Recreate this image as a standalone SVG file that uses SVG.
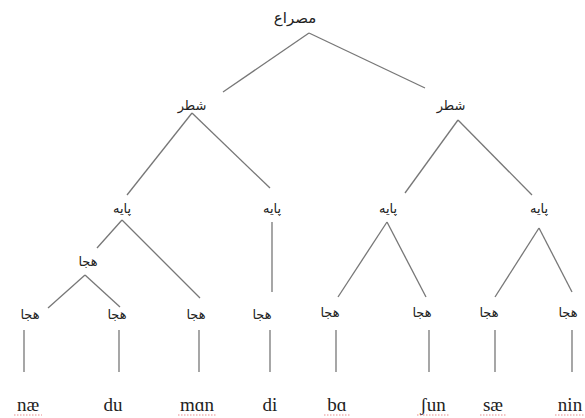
<svg xmlns="http://www.w3.org/2000/svg" width="585" height="418" viewBox="0 0 585 418">
<style>
.ar{font-family:"DejaVu Sans",sans-serif;font-size:13px;fill:#222;text-anchor:middle}
.top{font-size:15px}
.w{font-family:"Liberation Serif",serif;font-size:19px;fill:#222;text-anchor:middle}
.e{stroke:#777;stroke-width:1.3;fill:none}
.sq{stroke:#e07070;stroke-width:0.8;fill:none;stroke-dasharray:1.5 1.5}
</style>
<rect width="585" height="418" fill="#fff"/>
<g id="connectors">
<line class="e" x1="309" y1="33" x2="223" y2="92"/>
<line class="e" x1="309" y1="33" x2="425" y2="88"/>
<line class="e" x1="192" y1="113" x2="127" y2="195"/>
<line class="e" x1="192" y1="113" x2="270" y2="188"/>
<line class="e" x1="458" y1="120" x2="405" y2="193"/>
<line class="e" x1="458" y1="120" x2="532" y2="195"/>
<line class="e" x1="122" y1="220" x2="97" y2="248"/>
<line class="e" x1="122" y1="220" x2="200" y2="298"/>
<line class="e" x1="272" y1="222" x2="272" y2="292"/>
<line class="e" x1="85" y1="275" x2="48" y2="308"/>
<line class="e" x1="85" y1="275" x2="120" y2="307"/>
<line class="e" x1="387" y1="222" x2="338" y2="297"/>
<line class="e" x1="387" y1="222" x2="426" y2="297"/>
<line class="e" x1="539" y1="228" x2="495" y2="297"/>
<line class="e" x1="539" y1="228" x2="572" y2="292"/>
<line class="e" x1="24" y1="330" x2="24" y2="372"/>
<line class="e" x1="119" y1="330" x2="119" y2="372"/>
<line class="e" x1="199" y1="330" x2="199" y2="372"/>
<line class="e" x1="270" y1="330" x2="270" y2="372"/>
<line class="e" x1="336" y1="330" x2="336" y2="372"/>
<line class="e" x1="429" y1="330" x2="429" y2="372"/>
<line class="e" x1="495" y1="330" x2="495" y2="372"/>
<line class="e" x1="572" y1="330" x2="572" y2="372"/>
</g>
<g id="mesra"><text class="ar top" x="295" y="23">مصراع</text></g>
<g id="shatr1"><text class="ar" x="192" y="110">شطر</text></g>
<g id="shatr2"><text class="ar" x="451" y="110">شطر</text></g>
<g id="paye1"><text class="ar" x="122" y="213">پایه</text></g>
<g id="paye2"><text class="ar" x="272" y="213">پایه</text></g>
<g id="paye3"><text class="ar" x="388" y="213">پایه</text></g>
<g id="paye4"><text class="ar" x="539" y="213">پایه</text></g>
<g id="hejaMid"><text class="ar" x="88" y="266">هجا</text></g>
<g id="heja1"><text class="ar" x="30" y="319">هجا</text></g>
<g id="heja2"><text class="ar" x="117" y="319">هجا</text></g>
<g id="heja3"><text class="ar" x="196" y="319">هجا</text></g>
<g id="heja4"><text class="ar" x="262" y="319">هجا</text></g>
<g id="heja5"><text class="ar" x="330" y="317">هجا</text></g>
<g id="heja6"><text class="ar" x="422" y="317">هجا</text></g>
<g id="heja7"><text class="ar" x="489" y="317">هجا</text></g>
<g id="heja8"><text class="ar" x="568" y="317">هجا</text></g>
<g id="w1"><text class="w" x="28" y="411">næ</text><path class="sq" d="M14 415h28"/></g>
<g id="w2"><text class="w" x="113" y="411">du</text></g>
<g id="w3"><text class="w" x="197" y="411">mɑn</text><path class="sq" d="M178 415h38"/></g>
<g id="w4"><text class="w" x="270" y="411">di</text></g>
<g id="w5"><text class="w" x="337" y="411">bɑ</text><path class="sq" d="M324 415h26"/></g>
<g id="w6"><text class="w" x="433" y="411">ʃun</text><path class="sq" d="M417 415h32"/></g>
<g id="w7"><text class="w" x="493" y="411">sæ</text><path class="sq" d="M480 415h26"/></g>
<g id="w8"><text class="w" x="570" y="411">nin</text><path class="sq" d="M555 415h30"/></g>
</svg>
